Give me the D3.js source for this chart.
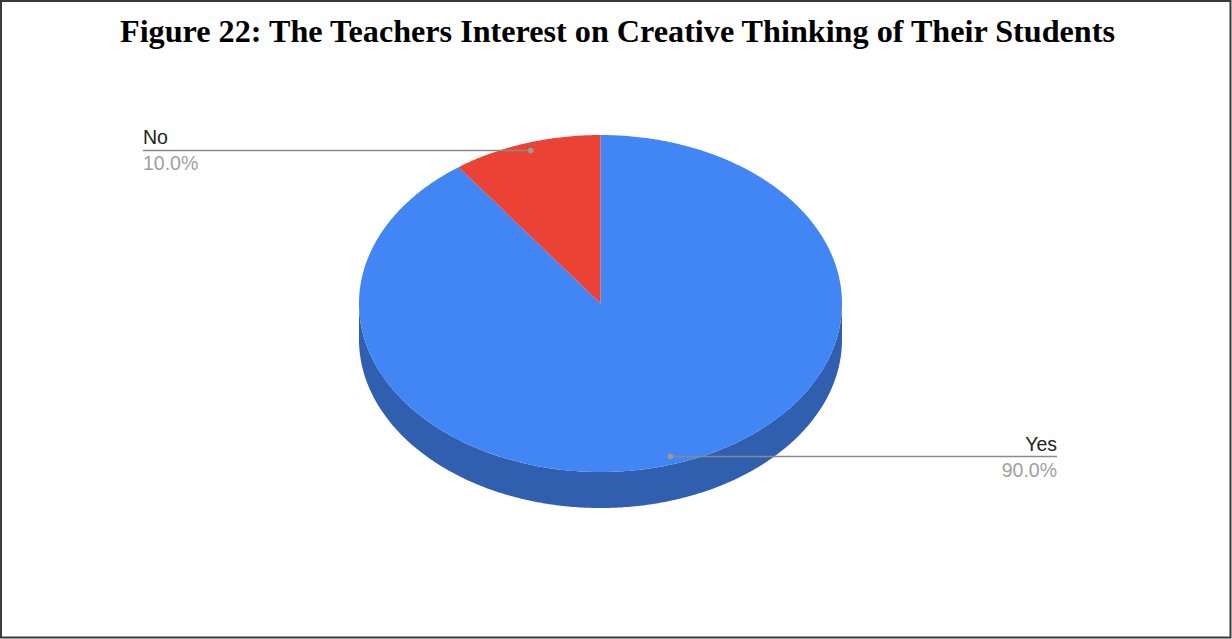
<!DOCTYPE html>
<html><head><meta charset="utf-8">
<script src="https://cdn.jsdelivr.net/npm/d3@7"></script>
<style>html,body{margin:0;padding:0;background:#fff;}svg{display:block;}</style>
</head><body>
<svg id="chart" width="1232" height="639"></svg>
<script>
const title = "Figure 22: The Teachers Interest on Creative Thinking of Their Students";
const categories = ["Yes", "No"];
const values = [90, 10];
const colors = ["#4285f4", "#ea4335"];
const sideColors = ["#2f5fae", "#a52714"];

const W = 1232, H = 639;
const svg = d3.select("#chart");

// border
svg.append("rect").attr("x", 1).attr("y", 1).attr("width", W - 2.5).attr("height", H - 2.5)
  .attr("fill", "#fff").attr("stroke", "#3a3a3a").attr("stroke-width", 2);

svg.append("text").attr("x", 617.5).attr("y", 42).attr("text-anchor", "middle")
  .attr("font-family", "'Liberation Serif','Times New Roman',serif").attr("font-weight", "bold")
  .attr("font-size", 32.5).attr("textLength", 995).attr("lengthAdjust", "spacingAndGlyphs")
  .attr("fill", "#000").text(title);

const cx = 600.5, cy = 303.5, rx = 241.5, ry = 168.5, depth = 36;
const proj = (a, fx, fy) => [cx + fx * rx * Math.sin(a), cy - fy * ry * Math.cos(a)];

const pie = d3.pie().sort(null).value(d => d)(values);
const line = d3.line();

function arcPts(a0, a1, dy) {
  const n = Math.max(2, Math.ceil((a1 - a0) / 0.01));
  const pts = [];
  for (let i = 0; i <= n; i++) {
    const a = a0 + (a1 - a0) * i / n;
    const p = proj(a, 1, 1);
    pts.push([p[0], p[1] + dy]);
  }
  return pts;
}

const g = svg.append("g");
// side walls (front half)
pie.forEach((d, i) => {
  const s = Math.max(d.startAngle, Math.PI / 2), e = Math.min(d.endAngle, 3 * Math.PI / 2);
  if (e <= s) return;
  const top = arcPts(s, e, 0);
  const bot = arcPts(s, e, depth).reverse();
  g.append("path").attr("d", line(top.concat(bot)) + "Z").attr("fill", sideColors[i]);
});
// top faces
pie.forEach((d, i) => {
  const pts = [[cx, cy]].concat(arcPts(d.startAngle, d.endAngle, 0));
  g.append("path").attr("d", line(pts) + "Z").attr("fill", colors[i]);
});

// labels
const labelFont = "'Liberation Sans', Arial, sans-serif";
pie.forEach((d, i) => {
  const mid = (d.startAngle + d.endAngle) / 2;
  const p = proj(mid, 0.936, 0.955);
  const left = Math.sin(mid) < 0;
  const ex = left ? 143 : 1057;
  const ly = p[1];
  svg.append("line").attr("x1", p[0]).attr("y1", ly).attr("x2", ex).attr("y2", ly)
    .attr("stroke", "#8a8a8a").attr("stroke-width", 1.4);
  svg.append("circle").attr("cx", p[0]).attr("cy", ly).attr("r", 2.8).attr("fill", "#9a9a9a");
  const anchor = left ? "start" : "end";
  svg.append("text").attr("x", ex).attr("y", ly - 6).attr("text-anchor", anchor)
    .attr("font-family", labelFont).attr("font-size", 19.5).attr("fill", "#222").text(categories[i]);
  const pct = (values[i] / d3.sum(values) * 100).toFixed(1) + "%";
  svg.append("text").attr("x", ex).attr("y", ly + 20).attr("text-anchor", anchor)
    .attr("font-family", labelFont).attr("font-size", 19.5).attr("fill", "#a0a0a0").text(pct);
});
</script>
</body></html>
